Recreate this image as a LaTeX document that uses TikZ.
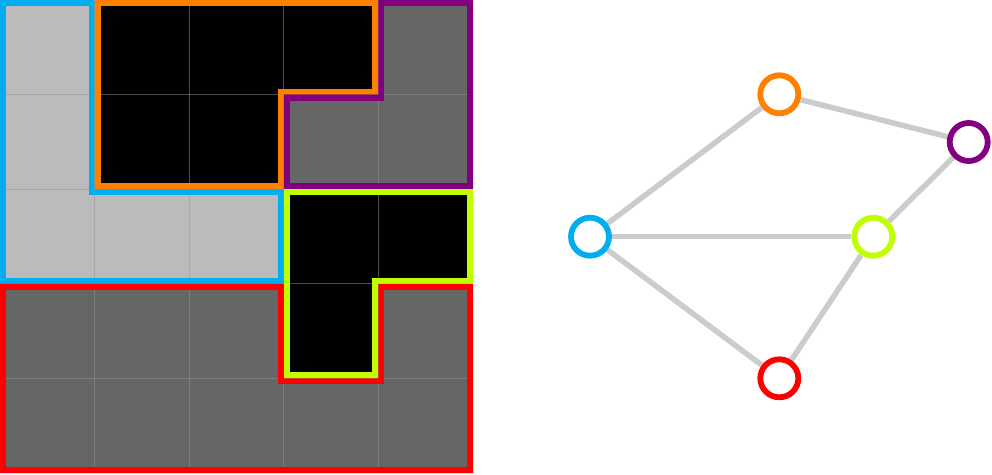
\documentclass[tikz,border=0pt]{standalone}
\usetikzlibrary{backgrounds}
\definecolor{lightc}{HTML}{BBBBBB}
\definecolor{darkc}{HTML}{666666}
\definecolor{gridc}{HTML}{979797}
\definecolor{bluec}{HTML}{00AEEF}
\definecolor{orangec}{HTML}{FF8000}
\definecolor{purplec}{HTML}{800080}
\definecolor{limec}{HTML}{BFFF00}
\definecolor{redc}{HTML}{FF0000}
\definecolor{edgec}{HTML}{CCCCCC}
\tikzset{
  gnode/.style={circle, minimum size=38pt, inner sep=0pt, line width=5.8pt, fill=white},
  gedge/.style={draw=edgec, line width=5.5pt},
  gridline/.style={draw=gridc, opacity=0.5, line width=1pt},
  outline/.style={line width=12pt, line join=miter}
}
\begin{document}
\begin{tikzpicture}[x=1pt,y=-1pt]
\useasboundingbox (0,0) rectangle (992,474);
\begin{scope}[x=94.6pt,y=-94.6pt]
  % cells
  \fill[lightc] (0,0) rectangle (1,3);
  \fill[lightc] (1,2) rectangle (3,3);
  \fill[black] (1,0) rectangle (4,1);
  \fill[black] (1,1) rectangle (3,2);
  \fill[darkc] (4,0) rectangle (5,1);
  \fill[darkc] (3,1) rectangle (5,2);
  \fill[black] (3,2) rectangle (5,3);
  \fill[black] (3,3) rectangle (4,4);
  \fill[darkc] (0,3) rectangle (3,4);
  \fill[darkc] (4,3) rectangle (5,4);
  \fill[darkc] (0,4) rectangle (5,5);
  % grid lines
  \foreach \i in {1,2,3,4} {
    \draw[gridline] (\i,0) -- (\i,5);
    \draw[gridline] (0,\i) -- (5,\i);
  }
  % region outlines (inner strokes)
  \begin{scope}
    \clip (0,0) -- (1,0) -- (1,2) -- (3,2) -- (3,3) -- (0,3) -- cycle;
    \draw[outline, bluec] (0,0) -- (1,0) -- (1,2) -- (3,2) -- (3,3) -- (0,3) -- cycle;
  \end{scope}
  \begin{scope}
    \clip (1,0) -- (4,0) -- (4,1) -- (3,1) -- (3,2) -- (1,2) -- cycle;
    \draw[outline, orangec] (1,0) -- (4,0) -- (4,1) -- (3,1) -- (3,2) -- (1,2) -- cycle;
  \end{scope}
  \begin{scope}
    \clip (4,0) -- (5,0) -- (5,2) -- (3,2) -- (3,1) -- (4,1) -- cycle;
    \draw[outline, purplec] (4,0) -- (5,0) -- (5,2) -- (3,2) -- (3,1) -- (4,1) -- cycle;
  \end{scope}
  \begin{scope}
    \clip (3,2) -- (5,2) -- (5,3) -- (4,3) -- (4,4) -- (3,4) -- cycle;
    \draw[outline, limec] (3,2) -- (5,2) -- (5,3) -- (4,3) -- (4,4) -- (3,4) -- cycle;
  \end{scope}
  \begin{scope}
    \clip (0,3) -- (3,3) -- (3,4) -- (4,4) -- (4,3) -- (5,3) -- (5,5) -- (0,5) -- cycle;
    \draw[outline, redc] (0,3) -- (3,3) -- (3,4) -- (4,4) -- (4,3) -- (5,3) -- (5,5) -- (0,5) -- cycle;
  \end{scope}
\end{scope}
% graph
\node[gnode, draw=orangec] (o) at (779.3,94.3) {};
\node[gnode, draw=purplec] (p) at (968.7,142) {};
\node[gnode, draw=bluec] (b) at (590,236.7) {};
\node[gnode, draw=limec] (l) at (873.3,236.7) {};
\node[gnode, draw=redc] (r) at (779.3,378.3) {};
\begin{scope}[on background layer]
  \draw[gedge] (o) -- (p);
  \draw[gedge] (o) -- (b);
  \draw[gedge] (b) -- (l);
  \draw[gedge] (b) -- (r);
  \draw[gedge] (l) -- (p);
  \draw[gedge] (l) -- (r);
\end{scope}
\end{tikzpicture}
\end{document}
